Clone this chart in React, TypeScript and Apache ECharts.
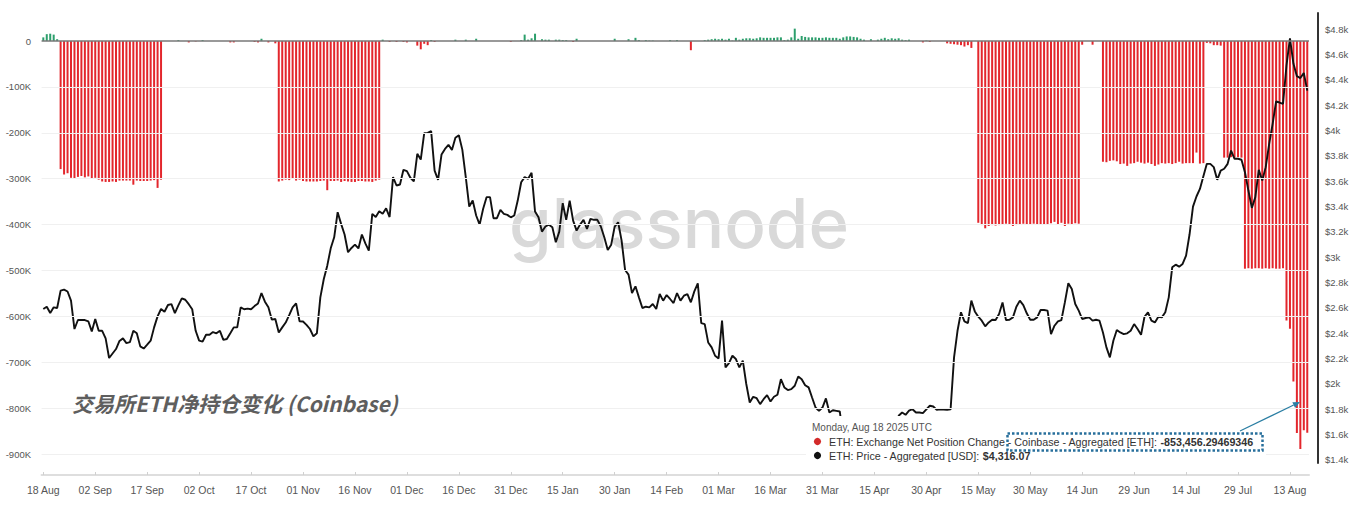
import React, { useEffect, useRef } from "react";
import * as echarts from "echarts";

// ---------- categories ----------
const START_UTC = Date.UTC(2024, 7, 18);
const DAY_COUNT = 366;
const MONTHS = ["Jan", "Feb", "Mar", "Apr", "May", "Jun", "Jul", "Aug", "Sep", "Oct", "Nov", "Dec"];
const dateCategories: string[] = Array.from({ length: DAY_COUNT }, (_, i) => {
  const d = new Date(START_UTC + i * 86400000);
  return `${String(d.getUTCDate()).padStart(2, "0")} ${MONTHS[d.getUTCMonth()]}`;
});

// ---------- ETH exchange net position change, Coinbase (thousand ETH) ----------
const flowAug18toAug22 = [8, 15, 16, 14, 4];
const flowAug23toSep21 = [
  -279, -291, -288, -298, -299, -296, -294, -297, -295, -299,
  -298, -302, -306, -307, -307, -306, -307, -304, -304, -304,
  -304, -313, -304, -305, -305, -305, -304, -303, -320, -302,
];
const flowSep22toOct24 = [
  0, 0, 0, 0, 2, 0, 0, -3, 0, -1, 0, 2, 0, 0, 0, 0, 0, 0, 0, -3, -3,
  0, 0, 0, 0, 0, -2, -3, 5, 0, -3, 0, -5,
];
const flowOct25toNov23 = [
  -306, -304, -302, -303, -300, -304, -302, -305, -306, -306,
  -306, -306, -305, -304, -325, -305, -305, -304, -307, -305,
  -306, -307, -307, -305, -305, -306, -306, -307, -304, -302,
];
const flowNov24toFeb24 = [
  3, 0, -2, 0, -2, 0, -2, -3, 0, 0,
  -10, -18, -6, -9, 2, -2, 0, 0, 0, 0,
  0, 3, 0, 0, 3, 0, 0, 5, 0, 0,
  0, 0, 0, 0, 0, 0, 0, -2, 0, 0,
  2, 14, 3, 6, 16, 0, 4, 3, 3, 0,
  3, 3, 2, 2, 0, -2, 5, 0, 0, 0,
  0, 0, 0, 0, 0, 0, 0, 5, 0, 0,
  0, 4, 0, 7, 2, 0, 2, 1, 1, 0,
  0, 0, 0, 2, 0, 2, 0, 0, 0, -20,
  0, 0, 0,
];
const flowFeb25toApr25 = [
  2, 3, 4, 5, 4, 5, 3, 5, 1, 7,
  3, 5, 6, 6, 5, 6, 8, 7, 7, 7,
  7, 8, 8, 2, 3, 8, 27, 5, 11, 9,
  8, 8, 8, 7, 7, 8, 7, 7, 7, 5,
  8, 10, 10, 9, 8, 5, 3, 0, 4, 0,
  3, 5, 7, 4, 6, 5, 6, 3, 2, 3,
];
const flowApr26toMay14 = [0, 0, 0, -3, 1, -2, 0, 0, 0, 0, -5, -6, -7, -8, -9, -12, -9, -15, 0];
const flowMay15toJun13 = [
  -396, -401, -408, -403, -401, -402, -401, -400, -398, -400,
  -403, -401, -399, -398, -399, -400, -398, -399, -399, -400,
  -399, -397, -394, -400, -396, -403, -398, -399, -397, -398,
];
const flowJun14toJun19 = [-8, 0, 0, -8, 0, 0];
const flowJun20toJul19 = [
  -263, -264, -261, -260, -262, -268, -267, -272, -267, -266,
  -263, -265, -267, -265, -268, -272, -269, -266, -267, -266,
  -268, -266, -263, -267, -266, -266, -266, -243, -267, -266,
];
const flowJul20toJul24 = [-4, -5, -9, -9, -10];
const flowJul25toJul30 = [-254, -254, -253, -254, -253, -254];
const flowJul31toAug11 = [-496, -495, -496, -495, -495, -496, -495, -496, -495, -496, -496, -495];
const flowAug12toAug18 = [-609, -627, -742, -854, -889, -848, -853.45629469346];

const netFlowK: number[] = [
  ...flowAug18toAug22, ...flowAug23toSep21, ...flowSep22toOct24, ...flowOct25toNov23,
  ...flowNov24toFeb24, ...flowFeb25toApr25, ...flowApr26toMay14, ...flowMay15toJun13,
  ...flowJun14toJun19, ...flowJun20toJul19, ...flowJul20toJul24, ...flowJul25toJul30,
  ...flowJul31toAug11, ...flowAug12toAug18,
];

// ---------- ETH price (USD) ----------
const price2024H2 = [
  2592, 2610, 2560, 2605, 2600, 2737, 2745, 2730, 2658, 2434,
  2505, 2505, 2505, 2495, 2415, 2513, 2420, 2420, 2360, 2205,
  2241, 2276, 2340, 2360, 2323, 2330, 2420, 2400, 2297, 2280,
  2310, 2342, 2447, 2534, 2592, 2570, 2624, 2630, 2560, 2620,
  2676, 2665, 2630, 2590, 2420, 2342, 2335, 2389, 2389, 2410,
  2400, 2420, 2348, 2355, 2400, 2447, 2447, 2605, 2590, 2595,
  2590, 2615, 2636, 2718, 2650, 2605, 2508, 2513, 2407, 2447,
  2485, 2544, 2605, 2636, 2495, 2493, 2467, 2434, 2376, 2400,
  2684, 2829, 2934, 3071, 3158, 3356, 3264, 3180, 3040, 3074,
  3100, 3070, 3180, 3110, 3053, 3343, 3318, 3364, 3343, 3387,
  3318, 3633, 3567, 3575, 3691, 3680, 3628, 3600, 3817, 3772,
  3980, 3982, 3996, 3685, 3612, 3812, 3856, 3888, 3848, 3944,
  3964, 3850, 3633, 3401, 3448, 3330, 3258, 3382, 3475, 3475,
  3309, 3309, 3374, 3343, 3335, 3316, 3330, 3448, 3593, 3633,
];
const price2025A = [
  3620, 3667, 3361, 3316, 3203, 3243, 3258, 3237, 3119, 3203,
  3427, 3296, 3448, 3290, 3211, 3258, 3296, 3224, 3303, 3296,
  3296, 3243, 3158, 3058, 3100, 3243, 3277, 3132, 2900, 2863,
  2718, 2771, 2684, 2600, 2610, 2605, 2631, 2592, 2710, 2658,
  2702, 2671, 2639, 2718, 2658, 2697, 2710, 2645, 2731, 2795,
  2480, 2473, 2328, 2289, 2223, 2202, 2500, 2131, 2165, 2223,
  2197, 2131, 2184, 2000, 1854, 1899, 1888, 1841, 1880, 1912,
  1862, 1899, 1915, 2038, 1973, 1952, 1959, 1986, 2059, 2038,
  1990, 1973, 1893, 1814, 1788, 1814, 1886, 1775, 1793, 1788,
  1783, 1580, 1550, 1470, 1670, 1520, 1570, 1640, 1590, 1620,
  1590, 1580, 1585, 1585, 1615, 1585, 1580, 1749, 1775, 1757,
];
const price2025B = [
  1790, 1801, 1775, 1775, 1770, 1800, 1828, 1822, 1796, 1801,
  1798, 1796, 1800, 2210, 2420, 2566, 2494, 2481, 2658, 2573,
  2531, 2500, 2455, 2486, 2507, 2505, 2552, 2644, 2505, 2507,
  2526, 2610, 2658, 2623, 2558, 2507, 2507, 2526, 2584, 2584,
  2579, 2394, 2460, 2494, 2505, 2644, 2795, 2750, 2631, 2579,
  2513, 2521, 2526, 2500, 2507, 2500, 2407, 2289, 2210, 2341,
  2426, 2407, 2394, 2400, 2420, 2473, 2434, 2389, 2531, 2566,
  2500, 2486, 2531, 2526, 2566, 2684, 2921, 2942, 2926, 2948,
  3013, 3180, 3400, 3480, 3540, 3640, 3738, 3738, 3712, 3612,
  3685, 3699, 3738, 3843, 3778, 3778, 3770, 3672, 3527, 3390,
  3475, 3691, 3606, 3712, 3896, 4054, 4231, 4222, 4212, 4515,
  4728, 4530, 4430, 4415, 4455, 4316.07,
];
const priceUsd: number[] = [...price2024H2, ...price2025A, ...price2025B];

// ---------- axis ticks ----------
const flowTicks = [0, -100000, -200000, -300000, -400000, -500000, -600000, -700000, -800000, -900000];
const priceTicks = [1400, 1600, 1800, 2000, 2200, 2400, 2600, 2800, 3000, 3200, 3400, 3600, 3800, 4000, 4200, 4400, 4600, 4800];

const FONT = "'Liberation Sans', Arial, sans-serif";

export default function App() {
  const ref = useRef<HTMLDivElement>(null);

  useEffect(() => {
    if (!ref.current) return;
    const chart = echarts.init(ref.current, undefined, { renderer: "svg", width: 1364, height: 518 });

    const arrowFrom = [1240, 431];
    const arrowTo = [1300, 402];
    const dx = arrowTo[0] - arrowFrom[0];
    const dy = arrowTo[1] - arrowFrom[1];
    const len = Math.sqrt(dx * dx + dy * dy);
    const ux = dx / len, uy = dy / len;
    const hl = 7, hw = 3.2;
    const bx = arrowTo[0] - ux * hl, by = arrowTo[1] - uy * hl;
    const head = [
      [arrowTo[0], arrowTo[1]],
      [bx - uy * hw, by + ux * hw],
      [bx + uy * hw, by - ux * hw],
    ];

    const option: any = {
      animation: false,
      backgroundColor: "#ffffff",
      grid: [
        { left: 41.57, right: 55, top: 13.5, bottom: 43 },
        { left: 41.57, right: 55, top: 13, bottom: 55 },
      ],
      xAxis: [
        {
          type: "category",
          gridIndex: 0,
          data: dateCategories,
          boundaryGap: true,
          axisLine: { onZero: false, lineStyle: { color: "#dedede", width: 2 } },
          axisTick: { show: true, interval: 14, alignWithLabel: true, inside: true, length: 3, lineStyle: { color: "#d0d0d0" } },
          axisLabel: { interval: 14, color: "#555", fontSize: 10.5, fontFamily: FONT, margin: 9 },
          splitLine: { show: false },
        },
        {
          type: "category",
          gridIndex: 1,
          data: dateCategories,
          boundaryGap: true,
          show: false,
        },
      ],
      yAxis: [
        {
          type: "value",
          gridIndex: 0,
          min: -945500,
          max: 60000,
          axisLine: { show: false },
          axisTick: { show: false },
          splitLine: { show: false },
          axisLabel: {
            customValues: flowTicks,
            color: "#555",
            fontSize: 9.5,
            fontFamily: FONT,
            margin: 10.5,
            formatter: (v: number) => (v === 0 ? "0" : `${Math.round(v / 1000)}K`),
          },
        },
        {
          type: "value",
          gridIndex: 1,
          position: "right",
          offset: 9,
          min: 1376.3,
          max: 4928.7,
          axisLine: { show: true, lineStyle: { color: "#333", width: 2 } },
          axisTick: { show: false },
          splitLine: { show: false },
          axisLabel: {
            customValues: priceTicks,
            color: "#555",
            fontSize: 9.5,
            fontFamily: FONT,
            margin: 7,
            formatter: (v: number) => `$${Math.round(v / 100) / 10}k`,
          },
        },
      ],
      series: [
        {
          name: "ETH: Exchange Net Position Change - Coinbase - Aggregated [ETH]",
          type: "bar",
          xAxisIndex: 0,
          yAxisIndex: 0,
          data: netFlowK.map((v) => v * 1000),
          barWidth: 2,
          itemStyle: {
            color: (p: any) => (p.value >= 0 ? "#2c9f6c" : "#e3262c"),
          },
          markLine: {
            silent: true,
            symbol: ["none", "none"],
            label: { show: false },
            animation: false,
            lineStyle: { color: "#f0f0f0", width: 1, type: "solid" },
            data: [
              ...flowTicks.filter((v) => v !== 0).map((v) => ({ yAxis: v })),
              { yAxis: 0, lineStyle: { color: "#777", width: 1.6, type: "solid" } },
            ],
          },
        },
        {
          name: "ETH: Price - Aggregated [USD]",
          type: "line",
          xAxisIndex: 1,
          yAxisIndex: 1,
          data: priceUsd,
          showSymbol: false,
          symbol: "none",
          z: 3,
          lineStyle: { color: "#111", width: 1.9 },
        },
      ],
      graphic: [
        {
          type: "text",
          x: 679,
          y: 223,
          z: 1,
          silent: true,
          style: {
            text: "glassnode",
            fill: "#d9d9d9",
            font: "500 69px Inter, 'Noto Sans', sans-serif",
            align: "center",
            verticalAlign: "middle",
          },
        },
        {
          type: "text",
          x: 72,
          y: 403,
          z: 100,
          style: {
            text: "交易所ETH净持仓变化 (Coinbase)",
            fill: "#5e5e5e",
            font: "italic bold 21px 'Noto Sans CJK SC', 'Noto Sans', sans-serif",
            align: "left",
            verticalAlign: "middle",
          },
        },
        {
          type: "rect",
          z: 100,
          shape: { x: 806, y: 416, width: 460, height: 47 },
          style: { fill: "#ffffff" },
        },
        {
          type: "text",
          x: 812,
          y: 427,
          z: 101,
          style: {
            text: "Monday, Aug 18 2025 UTC",
            fill: "#555",
            font: `10px ${FONT}`,
            verticalAlign: "middle",
          },
        },
        {
          type: "circle",
          z: 101,
          shape: { cx: 817.5, cy: 441.5, r: 3.6 },
          style: { fill: "#d32a2a" },
        },
        {
          type: "circle",
          z: 101,
          shape: { cx: 817.5, cy: 455.5, r: 3.6 },
          style: { fill: "#111" },
        },
        {
          type: "text",
          x: 829,
          y: 441.5,
          z: 101,
          style: {
            text: "{a|ETH: Exchange Net Position Change - Coinbase - Aggregated [ETH]: }{b|-853,456.29469346}",
            verticalAlign: "middle",
            rich: {
              a: { fontSize: 10.7, fontFamily: FONT, fill: "#333" },
              b: { fontSize: 10.7, fontFamily: FONT, fontWeight: "bold", fill: "#333" },
            },
          },
        },
        {
          type: "text",
          x: 829,
          y: 455.5,
          z: 101,
          style: {
            text: "{a|ETH: Price - Aggregated [USD]: }{b|$4,316.07}",
            verticalAlign: "middle",
            rich: {
              a: { fontSize: 10.7, fontFamily: FONT, fill: "#333" },
              b: { fontSize: 10.7, fontFamily: FONT, fontWeight: "bold", fill: "#333" },
            },
          },
        },
        {
          type: "rect",
          z: 102,
          shape: { x: 1007.5, y: 433.5, width: 255, height: 17 },
          style: { fill: "none", stroke: "#276f9c", lineWidth: 2.5, lineDash: [2.5, 2] },
        },
        {
          type: "line",
          z: 102,
          shape: { x1: arrowFrom[0], y1: arrowFrom[1], x2: bx, y2: by },
          style: { stroke: "#2a7ea3", lineWidth: 1.2 },
        },
        {
          type: "polygon",
          z: 102,
          shape: { points: head },
          style: { fill: "#2a7ea3" },
        },
      ],
    };

    chart.setOption(option);
    return () => chart.dispose();
  }, []);

  return (
    <div
      ref={ref}
      style={{ position: "fixed", left: 0, top: 0, width: 1364, height: 518, background: "#fff" }}
    />
  );
}
